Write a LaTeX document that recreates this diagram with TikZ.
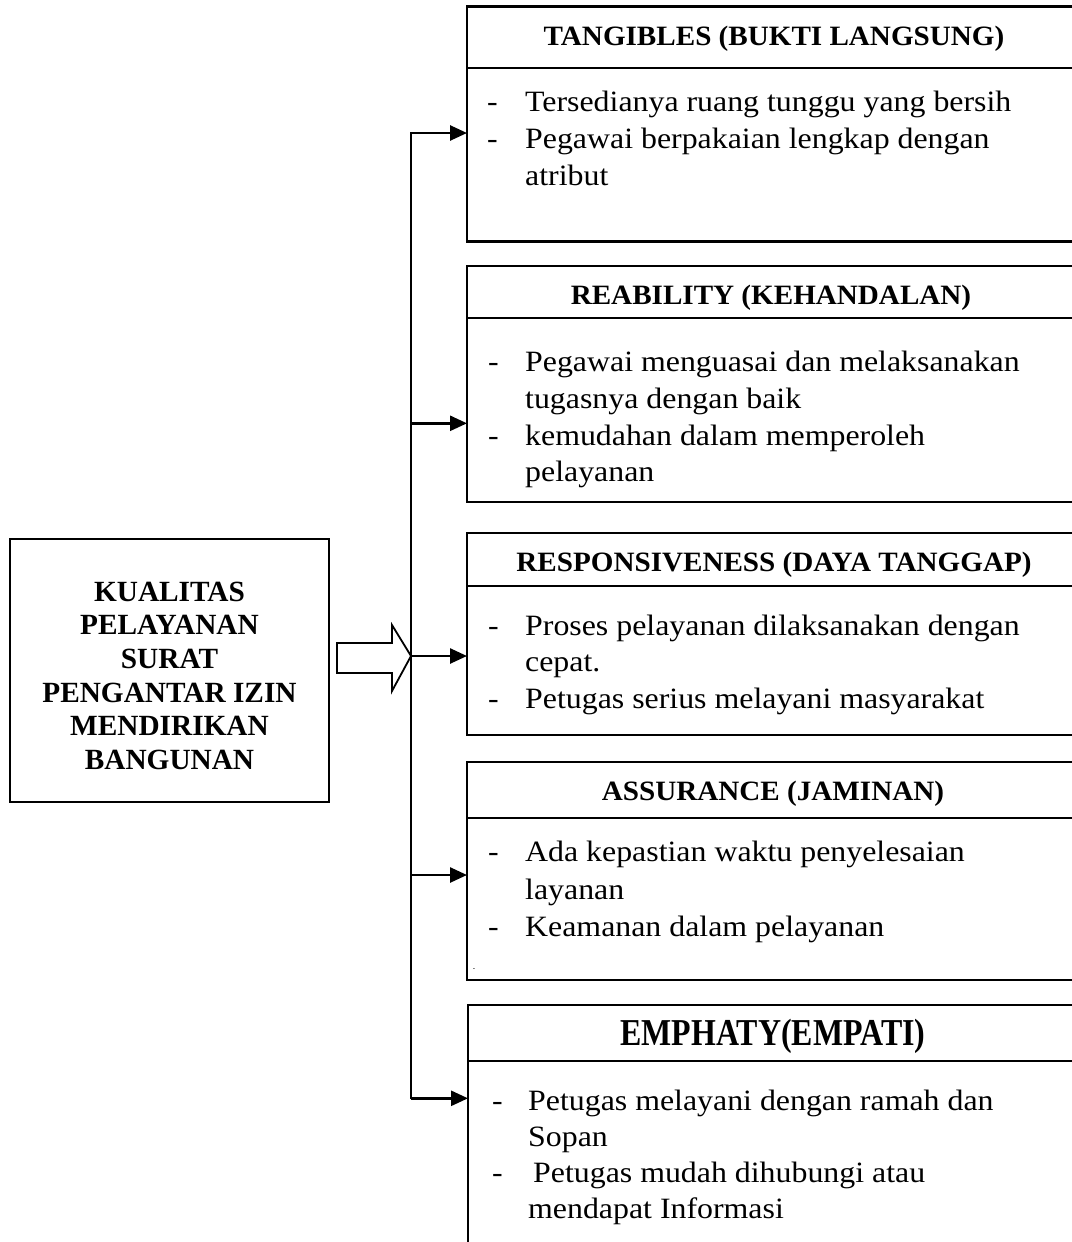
\documentclass[tikz,border=0pt]{standalone}
\usepackage{fontspec}
\setmainfont{Liberation Serif}
\newfontfamily\bodyf[FakeStretch=1.08]{Liberation Serif}
\newfontfamily\headf[FakeStretch=1.04]{Liberation Serif}
\newfontfamily\emphf[FakeStretch=0.84]{Liberation Serif}
\usetikzlibrary{arrows.meta}
\begin{document}
\begin{tikzpicture}[x=1pt,y=-1pt,
  boxline/.style={draw=black, line width=2.1pt, rectangle, inner sep=0pt, outer sep=0pt, anchor=north west, minimum width=614pt},
  headtxt/.style={inner sep=0pt, anchor=base, font=\headf\bfseries\fontsize{28}{30}\selectfont},
  bodytxt/.style={inner sep=0pt, anchor=base west, font=\bodyf\fontsize{29.5}{36.7}\selectfont},
  arr/.style={line width=2.6pt, -{Triangle[length=17pt,width=15pt]}},
  busline/.style={line width=2pt, line cap=rect},
  blockarrow/.style={draw=black, line width=1.8pt, line join=miter, fill=white}]
\useasboundingbox[fill=white] (0,0) rectangle (1071,1242);

% main box
\node[draw=black, line width=2pt, rectangle, inner sep=0pt, outer sep=0pt, minimum width=319pt, minimum height=262.5pt] (main) at (169.5,670.5) {};
\node[inner sep=0pt, anchor=base, font=\bfseries\fontsize{29.3}{33.7}\selectfont] (maintext) at (169.5,601)
  {\begin{tabular}[t]{@{}c@{}}KUALITAS\\PELAYANAN\\SURAT\\PENGANTAR IZIN\\MENDIRIKAN\\BANGUNAN\end{tabular}};

% right boxes
\node[boxline, minimum height=61.8pt]  (h1) at (467,6.5) {};
\node[boxline, minimum height=173.2pt] (b1) at (h1.south west) {};
\node[boxline, minimum height=52pt]    (h2) at (467,265.7) {};
\node[boxline, minimum height=184pt]   (b2) at (h2.south west) {};
\node[boxline, minimum height=52.7pt]  (h3) at (467,533.3) {};
\node[boxline, minimum height=149pt]   (b3) at (h3.south west) {};
\node[boxline, minimum height=56pt]    (h4) at (467,761.7) {};
\node[boxline, minimum height=162.3pt] (b4) at (h4.south west) {};
\node[boxline, minimum height=56pt]    (h5) at (468,1005) {};
\node[boxline, minimum height=210pt]   (b5) at (h5.south west) {};

% headers
\node[headtxt] (t1) at (774,45) {TANGIBLES (BUKTI LANGSUNG)};
\node[headtxt] (t2) at (771,304.3) {REABILITY (KEHANDALAN)};
\node[headtxt] (t3) at (774,571.7) {RESPONSIVENESS (DAYA TANGGAP)};
\node[headtxt] (t4) at (773,800) {ASSURANCE (JAMINAN)};
\node[inner sep=0pt, anchor=base, font=\emphf\bfseries\fontsize{38}{40}\selectfont] (t5) at (773,1045) {EMPHATY(EMPATI)};

% bodies
\node[bodytxt] (l1) at (487,111.7) {\begin{tabular}[t]{@{}l@{}l@{}}
  \makebox[38pt][l]{-}&Tersedianya ruang tunggu yang bersih\\
  \makebox[38pt][l]{-}&Pegawai berpakaian lengkap dengan\\
  &atribut\end{tabular}};
\node[bodytxt] (l2) at (488,371.7) {\begin{tabular}[t]{@{}l@{}l@{}}
  \makebox[37pt][l]{-}&Pegawai menguasai dan melaksanakan\\
  &tugasnya dengan baik\\
  \makebox[37pt][l]{-}&kemudahan dalam memperoleh\\
  &pelayanan\end{tabular}};
\node[bodytxt] (l3) at (488,635) {\begin{tabular}[t]{@{}l@{}l@{}}
  \makebox[37pt][l]{-}&Proses pelayanan dilaksanakan dengan\\
  &cepat.\\
  \makebox[37pt][l]{-}&Petugas serius melayani masyarakat\end{tabular}};
\node[bodytxt, font=\bodyf\fontsize{29.5}{37.4}\selectfont] (l4) at (488,861.7) {\begin{tabular}[t]{@{}l@{}l@{}}
  \makebox[37pt][l]{-}&Ada kepastian waktu penyelesaian\\
  &layanan\\
  \makebox[37pt][l]{-}&Keamanan dalam pelayanan\end{tabular}};
\node[inner sep=0pt, font=\fontsize{7}{7}\selectfont] (tick) at (474,970) {-};
\node[bodytxt, font=\bodyf\fontsize{29.5}{36.1}\selectfont] (l5) at (492,1110) {\begin{tabular}[t]{@{}l@{}l@{}}
  \makebox[36pt][l]{-}&Petugas melayani dengan ramah dan\\
  &Sopan\\
  \makebox[36pt][l]{-}&\hspace{5pt}Petugas mudah dihubungi atau\\
  &mendapat Informasi\end{tabular}};

% block arrow
\draw[blockarrow] (337,643) -- (392,643) -- (392,625) -- (411,656) -- (392,691) -- (392,673) -- (337,673) -- cycle;

% bus and arrows
\coordinate (j1) at (411,133);
\coordinate (j2) at (411,423.3);
\coordinate (j3) at (411,656);
\coordinate (j4) at (411,875);
\coordinate (j5) at (411,1098.3);
\draw[busline] (j1) -- (j5);
\draw[arr] (j1) -- (j1 -| b1.west);
\draw[arr] (j2) -- (j2 -| b2.west);
\draw[arr] (j3) -- (j3 -| b3.west);
\draw[arr] (j4) -- (j4 -| b4.west);
\draw[arr] (j5) -- (j5 -| b5.west);
\end{tikzpicture}
\end{document}
